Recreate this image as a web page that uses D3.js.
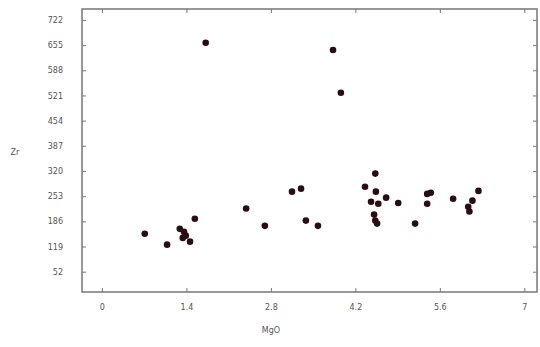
<!DOCTYPE html>
<html><head><meta charset="utf-8">
<script src="https://cdn.jsdelivr.net/npm/d3@7"></script>
<style>body{margin:0;background:#fff}svg{display:block}text{font-family:"DejaVu Sans",sans-serif}</style>
</head><body>
<script>
const xTicks = [0, 1.4, 2.8, 4.2, 5.6, 7];
const yTicks = [52, 119, 186, 253, 320, 387, 454, 521, 588, 655, 722];
const mgo = [1.72, 3.83, 3.96, 0.71, 1.08, 1.54, 1.29, 1.36, 1.39, 1.34, 1.46, 2.39, 2.70, 3.15, 3.30, 3.38, 3.58,
  4.53, 4.36, 4.54, 4.46, 4.58, 4.71, 4.91, 4.51, 4.53, 4.56, 5.19, 5.39, 5.45, 5.39, 5.82, 6.24, 6.14, 6.07, 6.09];
const zr = [661, 642, 528, 153, 124, 193, 166, 158, 148, 142, 132, 220, 174, 265, 273, 188, 174,
  313, 278, 265, 238, 233, 249, 235, 204, 188, 180, 180, 259, 262, 233, 246, 267, 241, 225, 212];

const W = 540, H = 347;
const m = {l: 82, r: 3, t: 9, b: 55};
const svg = d3.select("body").append("svg").attr("width", W).attr("height", H);
const x = d3.scaleLinear().domain([-0.33, 7.21]).range([m.l, W - m.r]);
const y = d3.scaleLinear().domain([-2, 751]).range([H - m.b, m.t]);

const axCol = "#777", txtCol = "#555";
function style(g){
  g.select(".domain").remove();
  g.selectAll(".tick line").attr("stroke", axCol).attr("stroke-width", 1);
  g.selectAll(".tick text").attr("fill", txtCol).attr("font-size", 8);
}
svg.append("g").attr("transform", `translate(0,${H - m.b})`)
  .call(d3.axisBottom(x).tickValues(xTicks).tickFormat(d3.format("")).tickSize(-4).tickPadding(12)).call(style);
svg.append("g").attr("transform", `translate(0,${m.t})`)
  .call(d3.axisTop(x).tickValues(xTicks).tickFormat("").tickSize(-4)).call(style);
svg.append("g").attr("transform", `translate(${m.l},0)`)
  .call(d3.axisLeft(y).tickValues(yTicks).tickFormat(d3.format("")).tickSize(-4).tickPadding(19)).call(style);
svg.append("g").attr("transform", `translate(${W - m.r},0)`)
  .call(d3.axisRight(y).tickValues(yTicks).tickFormat("").tickSize(-4)).call(style);

svg.append("rect").attr("x", m.l).attr("y", m.t).attr("width", W - m.r - m.l).attr("height", H - m.b - m.t)
  .attr("fill", "none").attr("stroke", axCol).attr("stroke-width", 1.5);

svg.append("g").selectAll("circle").data(mgo.map((v, i) => [v, zr[i]])).join("circle")
  .attr("cx", d => x(d[0])).attr("cy", d => y(d[1])).attr("r", 3.3).attr("fill", "#2a0c14");

svg.append("text").attr("x", x(2.8)).attr("y", 333).attr("text-anchor", "middle")
  .attr("font-size", 8).attr("fill", txtCol).text("MgO");
svg.append("text").attr("x", 15).attr("y", 155).attr("text-anchor", "middle")
  .attr("font-size", 8).attr("fill", txtCol).text("Zr");
</script>
</body></html>
